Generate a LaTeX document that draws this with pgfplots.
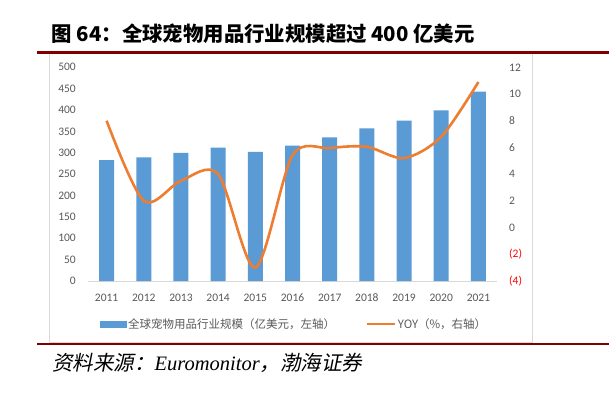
\documentclass[border=0pt]{standalone}
\usepackage{pgfplots}
\pgfplotsset{compat=1.18}
\usepackage{fontspec}
\setmainfont{Carlito}
\newfontfamily\cjk{Noto Sans CJK SC}
\newfontfamily\cjkit[FakeSlant=0.2]{Noto Sans CJK SC}
\newfontfamily\serifit{Liberation Serif}
\definecolor{barblue}{HTML}{5B9BD5}
\definecolor{lineorange}{HTML}{ED7D31}
\definecolor{tickgray}{HTML}{595959}
\definecolor{darkred}{HTML}{800000}
\definecolor{boxgray}{HTML}{D9D9D9}
\begin{document}
\begin{tikzpicture}
\useasboundingbox (0pt,0pt) rectangle (609pt,392pt);
\fill[white] (0pt,0pt) rectangle (609pt,392pt);
\draw[draw=boxgray, line width=0.8pt] (49pt,49.5pt) rectangle (532pt,339pt);
\fill[darkred] (37pt,338.5pt) rectangle (609pt,341pt);
\fill[darkred] (37pt,46.8pt) rectangle (609pt,49.3pt);
\node[anchor=west, inner sep=0pt] at (51.5pt,358.7pt) {\cjk\bfseries\fontsize{20.4}{24}\selectfont 图 64：全球宠物用品行业规模超过 400 亿美元};
\node[anchor=west, inner sep=0pt] at (52pt,29pt) {\fontsize{20.5}{24}\selectfont{\cjkit 资料来源：}{\serifit\itshape Euromonitor}{\cjkit ，渤海证券}};

\begin{axis}[
  at={(88pt,111pt)}, anchor=south west, scale only axis,
  width=409pt, height=213.7pt,
  xmin=-0.5, xmax=10.5, ymin=0, ymax=500,
  ytick={0,50,...,500},
  xtick={0,...,10},
  xticklabels={2011,2012,2013,2014,2015,2016,2017,2018,2019,2020,2021},
  axis lines*=left,
  y axis line style={draw=none},
  x axis line style={draw=boxgray, line width=0.8pt, -},
  major tick length=0pt,
  /pgf/number format/assume math mode=true,
  ticklabel style={font=\fontsize{11.5}{13}\selectfont, text=tickgray},
  yticklabel style={anchor=east, inner sep=0pt, xshift=-12pt},
  xticklabel style={anchor=north, inner sep=0pt, yshift=-12.5pt},
  clip=false,
]
\addplot[ybar, bar width=15pt, fill=barblue, draw=none] coordinates {
  (0,283) (1,289) (2,300) (3,312) (4,302) (5,317) (6,336) (7,357) (8,375) (9,399) (10,443)
};
\end{axis}

\begin{axis}[
  at={(88pt,111pt)}, anchor=south west, scale only axis,
  width=409pt, height=213.7pt,
  xmin=-0.5, xmax=10.5, ymin=-4, ymax=12,
  ytick={-4,-2,...,12},
  yticklabels={\textcolor{red}{(4)},\textcolor{red}{(2)},0,2,4,6,8,10,12},
  axis y line*=right,
  y axis line style={draw=none},
  hide x axis,
  major tick length=0pt,
  /pgf/number format/assume math mode=true,
  ticklabel style={font=\fontsize{11.5}{13}\selectfont, text=tickgray},
  yticklabel style={anchor=west, inner sep=0pt, xshift=12pt},
  clip=false,
  legend style={at={(0.5037,-0.201)}, anchor=center, draw=none, fill=none,
    legend columns=2, font=\cjk\fontsize{11.5}{13}\selectfont, text=tickgray,
    inner sep=0pt,
    /tikz/every even column/.append style={column sep=28pt}},
  legend cell align=left,
]
\addlegendimage{legend image code/.code={\fill[barblue] (0pt,-3pt) rectangle (26pt,3pt);}}
\addlegendentry{全球宠物用品行业规模（亿美元，左轴）}
\addplot[lineorange, line width=2.6pt, smooth, tension=0.5,
  legend image code/.code={\draw[lineorange, line width=2.6pt] (0pt,0pt) -- (28pt,0pt);}]
  coordinates {
  (0,8.0) (1,2.0) (2,3.5) (3,4.0) (4,-3.0) (5,5.4) (6,5.95) (7,6.05) (8,5.2) (9,6.8) (10,10.9)
};
\addlegendentry{YOY（\%，右轴）}
\end{axis}
\end{tikzpicture}
\end{document}
